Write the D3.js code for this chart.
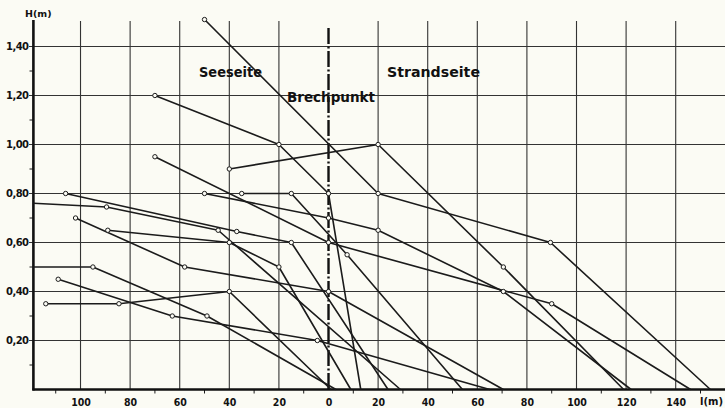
<!DOCTYPE html>
<html><head><meta charset="utf-8">
<script src="https://cdn.jsdelivr.net/npm/d3@7"></script>
<style>
html,body{margin:0;padding:0;background:#fbfbf4;}
svg{display:block;}
text{font-family:"DejaVu Sans",sans-serif;fill:#111;}
</style></head>
<body>
<script>
// ---- data ----
const xTickValues = [-100,-80,-60,-40,-20,0,20,40,60,80,100,120,140];
const xTickLabels = ["100","80","60","40","20","0","20","40","60","80","100","120","140"];
const yTickValues = [0.2,0.4,0.6,0.8,1.0,1.2,1.4];
const yTickLabels = ["0,20","0,40","0,60","0,80","1,00","1,20","1,40"];

// profiles: [l (m), H (m)]
const profile1  = [[-50,1.51],[20,0.80],[89.5,0.60],[154,0]];
const profile2  = [[-70,1.20],[-20,1.00],[0,0.80],[13,0]];
const profile3  = [[-40,0.90],[20,1.00],[70.5,0.50],[119,0]];
const profile4  = [[-70,0.95],[0,0.60],[90,0.35],[146,0]];
const profile5  = [[-50,0.80],[0,0.70],[20,0.65],[70.5,0.40],[122,0]];
const profile6  = [[-35,0.80],[-15,0.80],[7.5,0.55],[54,0]];
const profile7  = [[-106,0.80],[-37,0.645],[-15,0.60],[24,0]];
const profile8  = [[-119,0.76],[-89.5,0.745],[-44.5,0.65],[29,0]];
const profile9  = [[-102,0.70],[-58,0.50],[0,0.40],[70.5,0]];
const profile10 = [[-89,0.65],[-40,0.60],[-20,0.50],[9,0]];
const profile11 = [[-119,0.50],[-95,0.50],[-49,0.30],[3,0]];
const profile12 = [[-109,0.45],[-63,0.30],[-4.5,0.20],[65,0]];
const profile13 = [[-114,0.35],[-84.5,0.35],[-40,0.40],[1,0]];
const profiles = [profile1,profile2,profile3,profile4,profile5,profile6,profile7,
                  profile8,profile9,profile10,profile11,profile12,profile13];

const labelSee = "Seeseite", labelStrand = "Strandseite", labelBrech = "Brechpunkt";

// ---- layout ----
const W = 725, H = 408;
const svg = d3.select("body").append("svg").attr("width", W).attr("height", H);
svg.append("rect").attr("width", W).attr("height", H).attr("fill", "#fbfbf4");

const x = d3.scaleLinear().domain([-119, 160]).range([33.4, 725.3]);
const y = d3.scaleLinear().domain([0, 1.5]).range([389.5, 22]);
const ink = "#1b1b1b";

// grid
const g = svg.append("g");
xTickValues.filter(v => v !== 0).forEach(v => {
  g.append("line").attr("x1", x(v)).attr("x2", x(v)).attr("y1", 21).attr("y2", y(0))
    .attr("stroke", "#333").attr("stroke-width", 1.1);
});
yTickValues.forEach(v => {
  g.append("line").attr("x1", 29).attr("x2", W).attr("y1", y(v)).attr("y2", y(v))
    .attr("stroke", "#333").attr("stroke-width", 1.1);
});

// minor ticks
d3.range(0.1, 1.45, 0.2).forEach(v => {
  g.append("line").attr("x1", 29.5).attr("x2", 33).attr("y1", y(v)).attr("y2", y(v))
    .attr("stroke", ink).attr("stroke-width", 1);
});
d3.range(-110, 160, 20).forEach(v => {
  g.append("line").attr("x1", x(v)).attr("x2", x(v)).attr("y1", y(0)).attr("y2", y(0) + 4)
    .attr("stroke", ink).attr("stroke-width", 1);
});

// Brechpunkt dash-dot line
svg.append("line").attr("x1", x(0)).attr("x2", x(0)).attr("y1", 28).attr("y2", y(0))
  .attr("stroke", "#111").attr("stroke-width", 2.4)
  .attr("stroke-dasharray", "16,2.5,2,2.5");

// axes (thick)
svg.append("line").attr("x1", x(-119)).attr("x2", x(-119)).attr("y1", 20).attr("y2", y(0) + 1)
  .attr("stroke", "#111").attr("stroke-width", 2.6);
svg.append("line").attr("x1", x(-119) - 1).attr("x2", W).attr("y1", y(0)).attr("y2", y(0))
  .attr("stroke", "#111").attr("stroke-width", 2.6);

// axis labels via d3 axes (text only)
const xAxis = d3.axisBottom(x).tickValues(xTickValues)
  .tickFormat((d, i) => xTickLabels[i]).tickSize(0).tickPadding(9);
const xa = svg.append("g").attr("transform", `translate(0,${y(0)})`).call(xAxis);
xa.select(".domain").remove();
xa.selectAll("text").attr("font-size", 10.5).attr("font-family", "DejaVu Sans, sans-serif")
  .attr("fill", "#111").attr("font-weight", "bold").attr("font-stretch","condensed");

const yAxis = d3.axisLeft(y).tickValues(yTickValues)
  .tickFormat((d, i) => yTickLabels[i]).tickSize(0).tickPadding(5);
const ya = svg.append("g").attr("transform", `translate(${x(-119)},0)`).call(yAxis);
ya.select(".domain").remove();
ya.selectAll("text").attr("font-size", 10).attr("font-family", "DejaVu Sans, sans-serif")
  .attr("fill", "#111").attr("font-weight", "bold").attr("letter-spacing", "-0.6");

svg.append("text").attr("x", 25).attr("y", 17).attr("font-size", 9.5).attr("font-weight", "bold")
  .text("H(m)");
svg.append("text").attr("x", 700).attr("y", 405).attr("font-size", 10).attr("font-weight", "bold")
  .text("l(m)");

// profiles
const line = d3.line().x(d => x(d[0])).y(d => y(d[1]));
profiles.forEach(p => {
  svg.append("path").attr("d", line(p)).attr("fill", "none")
    .attr("stroke", ink).attr("stroke-width", 1.6).attr("stroke-linejoin", "round");
});
profiles.forEach(p => {
  p.filter(d => d[1] > 0 && d[0] > -119).forEach(d => {
    svg.append("circle").attr("cx", x(d[0])).attr("cy", y(d[1])).attr("r", 2.2)
      .attr("fill", "#fbfbf4").attr("stroke", ink).attr("stroke-width", 1);
  });
});

// region labels
const lab = (t, cx, cy, w) => svg.append("text").attr("x", cx).attr("y", cy)
  .attr("font-size", 14).attr("font-weight", "bold").attr("textLength", w)
  .attr("lengthAdjust", "spacingAndGlyphs").text(t);
lab(labelSee, 199, 77, 63);
lab(labelStrand, 387, 77, 93);
const bt = lab(labelBrech, 287, 102, 88);
</script>
</body></html>
